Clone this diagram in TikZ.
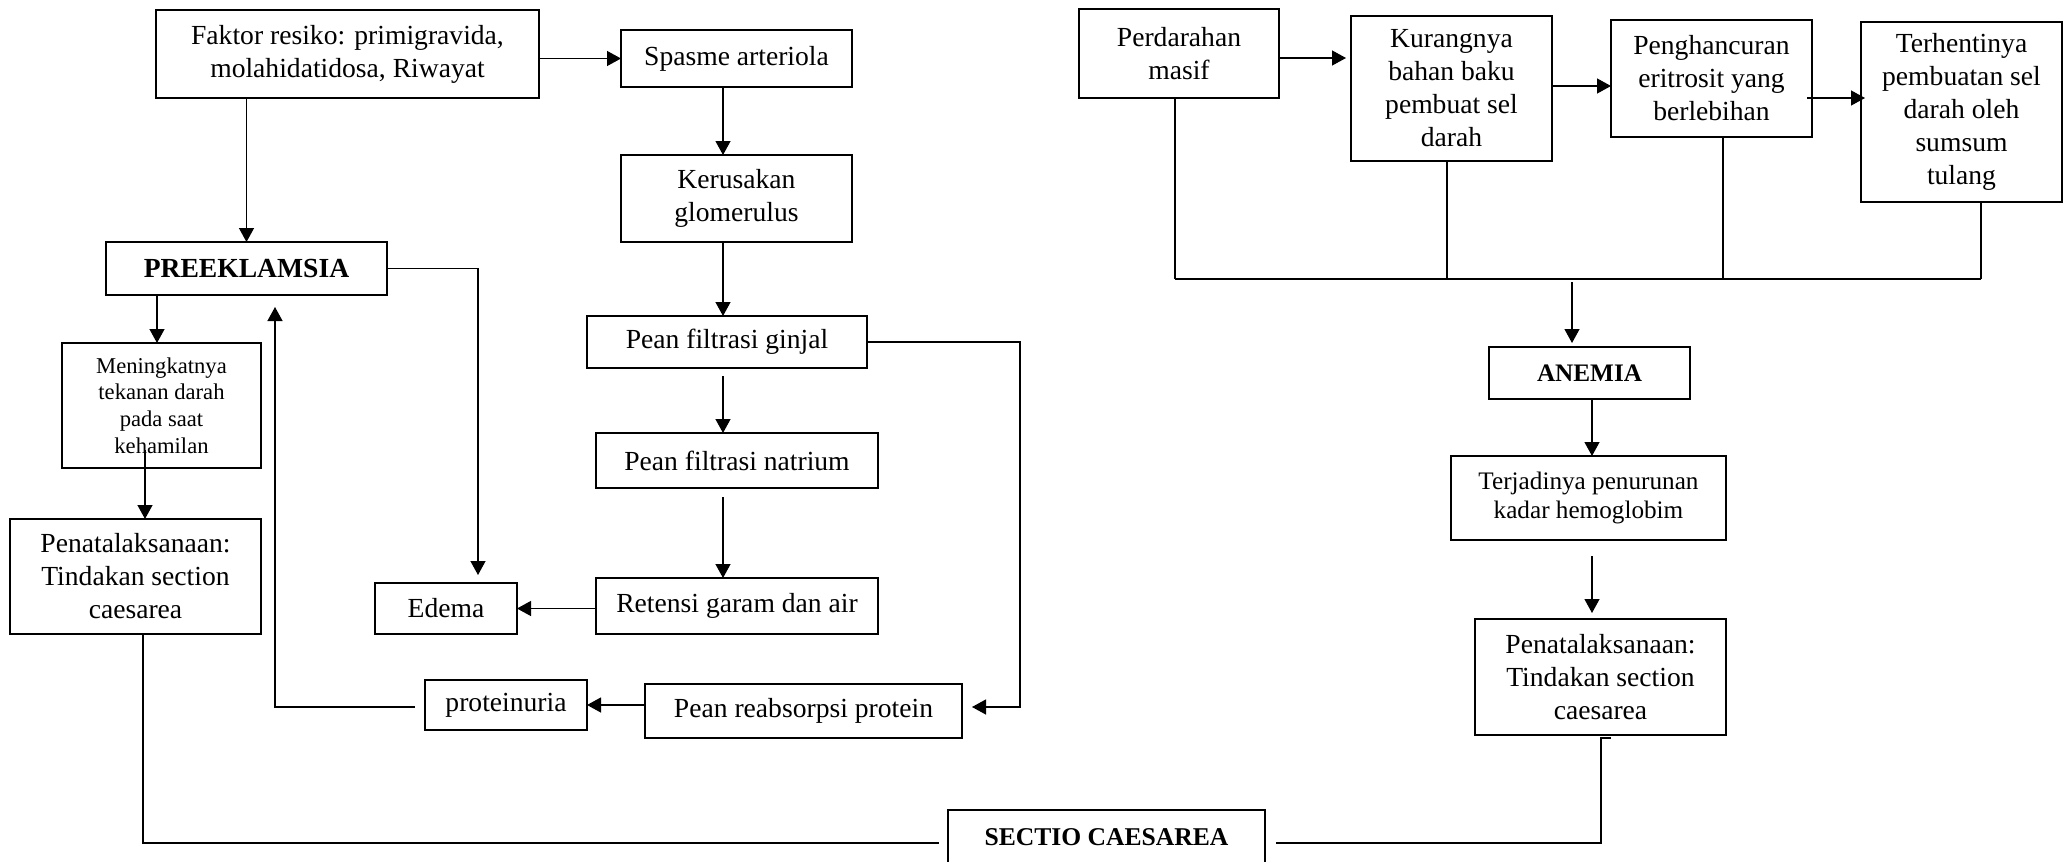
\documentclass[tikz,border=0pt]{standalone}
\usepackage{fontspec}
\setmainfont{Liberation Serif}
\usetikzlibrary{arrows.meta}
\tikzset{
  box/.style={draw, line width=1.35pt, inner sep=0pt, outer sep=0pt, align=center,
    font=\fontsize{13.8}{16.5}\selectfont},
  conn/.style={line width=0.65pt},
  arr/.style={conn, -{Triangle[length=7pt,width=7.5pt]}},
}
\begin{document}
\begin{tikzpicture}[x=0.5pt, y=-0.5pt]
\useasboundingbox (0,0) rectangle (2069,862);
% left part
\node[box, minimum width=191.5pt, minimum height=44pt] (fak) at (347.5,54) {Faktor resiko: primigravida,\\molahidatidosa, Riwayat};
\node[box, minimum width=115.5pt, minimum height=28.5pt] (spa) at (736.5,58.5) {Spasme arteriola};
\node[box, minimum width=115.5pt, minimum height=43.5pt] (ker) at (736.5,198.5) {Kerusakan\\glomerulus};
\node[box, minimum width=140pt, minimum height=26pt] (gin) at (727,342) {Pean filtrasi ginjal};
\node[box, minimum width=141pt, minimum height=27.5pt] (nat) at (737,460.5) {Pean filtrasi natrium};
\node[box, minimum width=141pt, minimum height=28pt] (ret) at (737,606) {Retensi garam dan air};
\node[box, minimum width=71pt, minimum height=25.5pt] (ede) at (446,608.5) {Edema};
\node[box, minimum width=81pt, minimum height=25pt] (pro) at (506,705) {proteinuria};
\node[box, minimum width=158.5pt, minimum height=27pt] (rea) at (803.5,711) {Pean reabsorpsi protein};
\node[box, minimum width=140.5pt, minimum height=26.5pt, font=\fontsize{13.8}{16}\selectfont\bfseries] (pre) at (246.5,268.5) {PREEKLAMSIA};
\node[box, minimum width=99.5pt, minimum height=62.5pt, font=\fontsize{11.3}{13.4}\selectfont] (men) at (161.5,405.5) {Meningkatnya\\tekanan darah\\pada saat\\kehamilan};
\node[box, minimum width=125.5pt, minimum height=57.5pt] (pen1) at (135.5,576.5) {Penatalaksanaan:\\Tindakan section\\caesarea};
\node[box, minimum width=158.5pt, minimum height=27pt, font=\fontsize{12.8}{15}\selectfont\bfseries] (sec) at (1106.5,837) {SECTIO CAESAREA};
% right part
\node[box, minimum width=100pt, minimum height=44.5pt] (per) at (1179,53.5) {Perdarahan\\masif};
\node[box, minimum width=100.5pt, minimum height=72.5pt] (kur) at (1451.5,88.5) {Kurangnya\\bahan baku\\pembuat sel\\darah};
\node[box, minimum width=100.5pt, minimum height=58.5pt] (peng) at (1711.5,78.5) {Penghancuran\\eritrosit yang\\berlebihan};
\node[box, minimum width=100.5pt, minimum height=90pt] (ter) at (1961.5,112) {Terhentinya\\pembuatan sel\\darah oleh\\sumsum\\tulang};
\node[box, minimum width=100.5pt, minimum height=26pt, font=\fontsize{12.6}{15}\selectfont\bfseries] (ane) at (1589.5,373) {ANEMIA};
\node[box, minimum width=137.5pt, minimum height=42pt, font=\fontsize{12.6}{14.5}\selectfont] (tjd) at (1588.5,498) {Terjadinya penurunan\\kadar hemoglobim};
\node[box, minimum width=125.5pt, minimum height=58pt] (pen2) at (1600.5,677) {Penatalaksanaan:\\Tindakan section\\caesarea};
% helper coordinates
\coordinate (cx) at (723,0);
\coordinate (g1) at (723,376);
\coordinate (n1) at (723,497);
\coordinate (e1) at (478,575);
\coordinate (r1) at (972,707);
\coordinate (r2) at (1020,707);
\coordinate (p1) at (415,707);
\coordinate (p2) at (275,307);
\coordinate (m0) at (157,0);
\coordinate (m1) at (145,450);
\coordinate (q0) at (143,0);
\coordinate (s1) at (939,843);
\coordinate (s2) at (1276,843);
\coordinate (t1) at (1611,738);
\coordinate (t2) at (1601,738);
\coordinate (b1) at (1175,279);
\coordinate (b2) at (1447,279);
\coordinate (b3) at (1723,279);
\coordinate (b4) at (1981,279);
\coordinate (b0) at (1572,282);
\coordinate (a0) at (1572,343);
\coordinate (k0) at (1346,58);
\coordinate (y86) at (0,86);
\coordinate (h1) at (1807,98);
\coordinate (h2) at (1865,98);
\coordinate (v0) at (1592,0);
\coordinate (v1) at (1592,556);
\coordinate (v2) at (1592,613);
% left connectors
\draw[arr] (fak.east |- spa.west) -- (spa.west);
\draw[arr] (fak.south -| pre.north) -- (pre.north);
\draw[arr] (spa.south -| cx) -- (ker.north -| cx);
\draw[arr] (ker.south -| cx) -- (gin.north -| cx);
\draw[arr] (g1) -- (nat.north -| g1);
\draw[arr] (n1) -- (ret.north -| n1);
\draw[arr] (ret.west |- ede.east) -- (ede.east);
\draw[arr] (pre.east) -| (e1);
\draw[arr] (gin.east) -| (r2) -- (r1);
\draw[arr] (rea.west |- pro.east) -- (pro.east);
\draw[arr] (p1) -| (p2);
\draw[arr] (pre.south -| m0) -- (men.north -| m0);
\draw[arr] (m1) -- (pen1.north -| m1);
\draw[conn] (pen1.south -| q0) |- (s1);
\draw[conn] (t1) -- (t2) |- (s2);
% right connectors
\draw[arr] (per.east |- k0) -- (k0);
\draw[arr] (kur.east |- y86) -- (peng.west |- y86);
\draw[arr] (h1) -- (h2);
\draw[conn] (per.south -| b1) -- (b1);
\draw[conn] (kur.south -| b2) -- (b2);
\draw[conn] (peng.south -| b3) -- (b3);
\draw[conn] (ter.south -| b4) -- (b4);
\draw[conn] (b1) -- (b4);
\draw[arr] (b0) -- (a0);
\draw[arr] (ane.south -| v0) -- (tjd.north -| v0);
\draw[arr] (v1) -- (v2);
\end{tikzpicture}
\end{document}
